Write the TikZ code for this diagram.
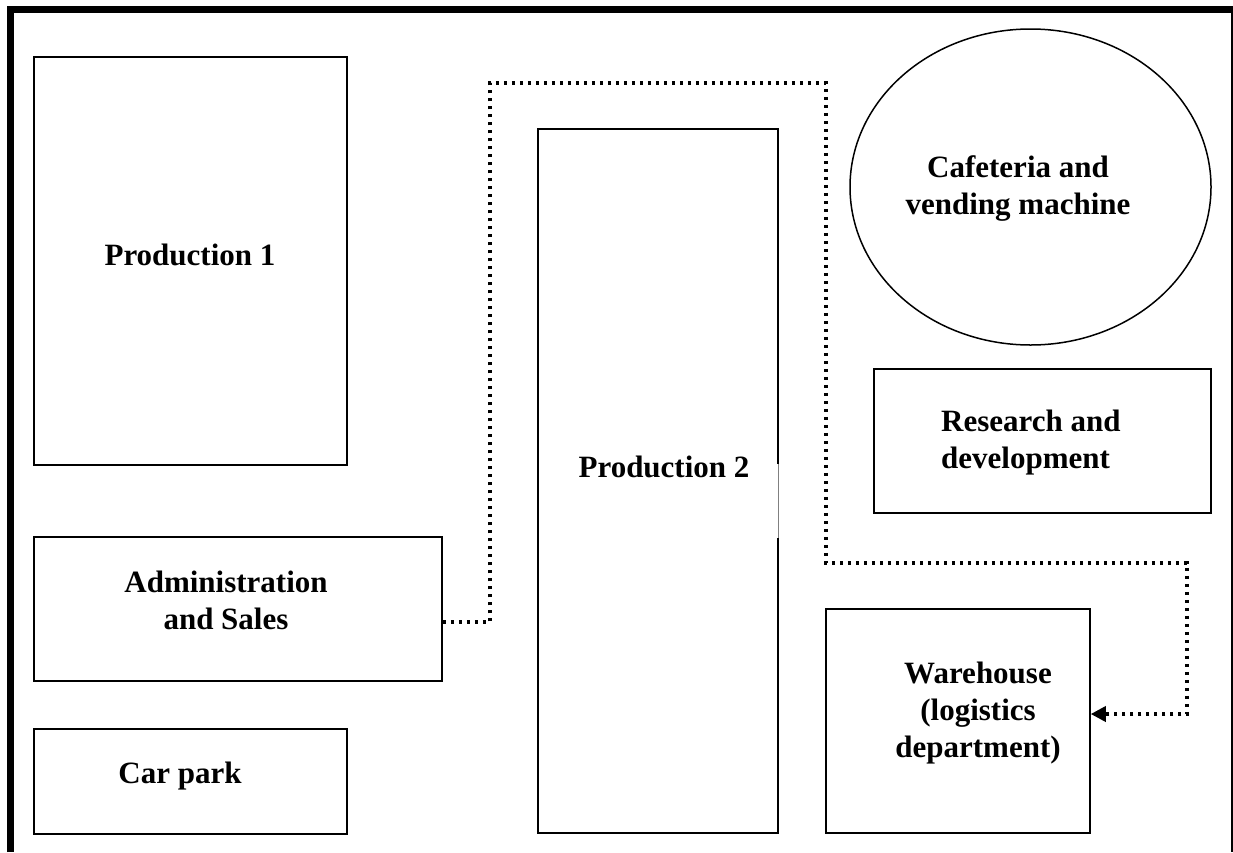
\documentclass[tikz,border=0pt]{standalone}
\usepackage{fontspec}
\setmainfont{Liberation Serif}
\usetikzlibrary{arrows.meta,shapes.geometric}
\begin{document}
\begin{tikzpicture}[x=1pt,y=-1pt,
  box/.style={draw=black, line width=1.5pt, inner sep=0pt},
  lbl/.style={font=\bfseries\fontsize{31}{37}\selectfont, align=center, inner sep=0pt},
  dotline/.style={line width=3.5pt, dash pattern=on 3.5pt off 4.5pt, -{Triangle[length=15pt,width=15pt]}}]
\useasboundingbox (0,0) rectangle (1233,852);
\fill[white] (0,0) rectangle (1233,852);
% outer border
\draw[line width=7pt] (10.5,852) -- (10.5,9.5) -- (1234,9.5) -- (1234,852);
% boxes
\node[box, minimum width=313pt, minimum height=408pt] (p1) at (190.5,261) {};
\node[box, minimum width=408pt, minimum height=144pt] (admin) at (238,609) {};
\node[box, minimum width=313pt, minimum height=105pt] (car) at (190.5,781.5) {};
\node[box, minimum width=240pt, minimum height=704pt] (p2) at (658,481) {};
\node[box, ellipse, minimum width=361pt, minimum height=316pt] (caf) at (1030.5,187) {};
\node[box, minimum width=337pt, minimum height=144pt] (rd) at (1042.5,441) {};
\node[box, minimum width=264pt, minimum height=224pt] (wh) at (958,721) {};
% faint gap on Production 2 right edge
\draw[white, line width=2.5pt] (778,464) -- (778,538);
\draw[gray, line width=0.6pt] (778,464) -- (778,538);
% labels
\node[lbl] (tp1) at (190,255) {Production 1};
\node[lbl] (tadmin) at (226,600) {Administration\\and Sales};
\node[lbl] (tcar) at (180,776) {Car park};
\node[lbl] (tp2) at (664,467) {Production 2};
\node[lbl] (tcaf) at (1018,189) {Cafeteria and\\vending machine};
\node[lbl, align=left, anchor=west] (trd) at (941,443) {Research and\\development};
\node[lbl] (twh) at (978,713) {Warehouse\\(logistics\\department)};
% dotted route
\draw[dotline] ([yshift=-13pt]admin.east) -| (490,83) -| (826,563) -| (1187,714) -- ([yshift=7pt]wh.east);
\end{tikzpicture}
\end{document}
